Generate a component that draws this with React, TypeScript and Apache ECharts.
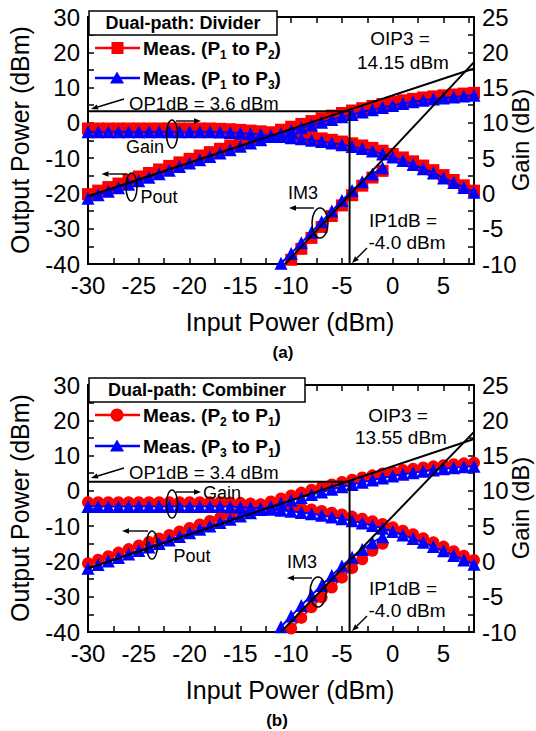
import React, { useEffect, useRef } from 'react';
import * as echarts from 'echarts';

// ---------------- data ----------------
const PIN = [-30, -29, -28, -27, -26, -25, -24, -23, -22, -21, -20, -19, -18, -17, -16, -15, -14, -13, -12, -11, -10, -9, -8, -7, -6, -5, -4, -3, -2, -1, 0, 1, 2, 3, 4, 5, 6, 7, 8];

// Panel (a) Divider
const A_POUT_RED = [-20.2, -19.2, -18.2, -17.2, -16.2, -15.2, -14.2, -13.2, -12.2, -11.2, -10.2, -9.25, -8.3, -7.35, -6.4, -5.45, -4.55, -3.65, -2.8, -1.95, -1.1, -0.3, 0.5, 1.3, 2.05, 2.8, 3.5, 4.15, 4.8, 5.35, 5.9, 6.4, 6.8, 7.2, 7.5, 7.8, 8.05, 8.3, 8.5];
const A_POUT_BLUE = [-21.4, -20.4, -19.4, -18.4, -17.4, -16.4, -15.4, -14.4, -13.4, -12.4, -11.4, -10.45, -9.5, -8.55, -7.6, -6.65, -5.7, -4.8, -3.9, -3.05, -2.2, -1.4, -0.6, 0.2, 0.95, 1.7, 2.4, 3.1, 3.75, 4.35, 4.95, 5.5, 5.95, 6.4, 6.75, 7.05, 7.35, 7.6, 7.8];
const A_GAIN_RED = [9.2, 9.2, 9.2, 9.2, 9.2, 9.2, 9.2, 9.2, 9.2, 9.2, 9.2, 9.2, 9.2, 9.15, 9.1, 9.0, 8.9, 8.8, 8.65, 8.5, 8.35, 8.2, 8.0, 7.8, 7.6, 7.35, 7.1, 6.8, 6.45, 6.05, 5.6, 5.1, 4.55, 3.95, 3.3, 2.6, 1.9, 1.15, 0.4];
const A_GAIN_BLUE = [8.75, 8.75, 8.75, 8.75, 8.75, 8.75, 8.75, 8.75, 8.75, 8.75, 8.75, 8.75, 8.75, 8.7, 8.65, 8.55, 8.45, 8.35, 8.2, 8.05, 7.9, 7.75, 7.55, 7.35, 7.15, 6.9, 6.65, 6.35, 6.0, 5.6, 5.15, 4.65, 4.1, 3.5, 2.9, 2.2, 1.55, 0.85, 0.15];
const A_IM3_PIN = [-11, -10, -9, -8, -7, -6, -5, -4, -3, -2, -1];
const A_IM3_RED = [-41.5, -38.8, -35.7, -32.6, -29.5, -26.4, -23.4, -20.5, -17.8, -15.5, -13.6];
const A_IM3_BLUE = [-39.8, -37.0, -34.0, -31.0, -28.0, -25.0, -22.0, -19.2, -16.7, -14.5, -12.7];
const A_FIT = [[-30, -20.8], [8, 15.4]];
const A_IM3_FIT = [[-10.6, -40], [8, 17.2]];
const A_OP1DB = 3.3;
const A_IP1DB = -4.25;

// Panel (b) Combiner
const B_POUT_RED = [-20.5, -19.5, -18.5, -17.5, -16.5, -15.5, -14.5, -13.5, -12.5, -11.5, -10.5, -9.5, -8.55, -7.6, -6.65, -5.7, -4.8, -3.9, -3.0, -2.15, -1.3, -0.5, 0.3, 1.05, 1.8, 2.5, 3.15, 3.8, 4.4, 4.95, 5.45, 5.9, 6.3, 6.65, 6.95, 7.25, 7.55, 7.8, 8.0];
const B_POUT_BLUE = [-21.9, -20.9, -19.9, -18.9, -17.9, -16.9, -15.9, -14.9, -13.9, -12.9, -11.9, -10.9, -9.95, -9.0, -8.05, -7.1, -6.2, -5.3, -4.4, -3.5, -2.65, -1.85, -1.05, -0.3, 0.45, 1.15, 1.8, 2.45, 3.05, 3.65, 4.2, 4.7, 5.15, 5.55, 5.9, 6.25, 6.55, 6.8, 7.0];
const B_GAIN_RED = [8.4, 8.4, 8.4, 8.4, 8.4, 8.4, 8.4, 8.4, 8.4, 8.4, 8.4, 8.4, 8.4, 8.4, 8.35, 8.3, 8.2, 8.1, 8.0, 7.85, 7.7, 7.55, 7.35, 7.15, 6.9, 6.65, 6.35, 6.05, 5.7, 5.3, 4.85, 4.35, 3.85, 3.3, 2.7, 2.1, 1.45, 0.8, 0.2];
const B_GAIN_BLUE = [7.8, 7.8, 7.8, 7.8, 7.8, 7.8, 7.8, 7.8, 7.8, 7.8, 7.8, 7.8, 7.8, 7.8, 7.75, 7.7, 7.6, 7.5, 7.4, 7.25, 7.1, 6.95, 6.75, 6.55, 6.3, 6.05, 5.75, 5.45, 5.1, 4.7, 4.25, 3.75, 3.25, 2.7, 2.1, 1.5, 0.85, 0.2, -0.4];
const B_IM3_PIN = [-12, -11, -10, -9, -8, -7, -6, -5, -4, -3, -2, -1];
const B_IM3_RED = [-45, -42, -39, -36, -33, -30.2, -27.4, -24.6, -21.9, -19.4, -17.0, -15.0];
const B_IM3_BLUE = [-41.5, -38.5, -35.5, -32.5, -29.6, -26.8, -24.0, -21.3, -18.8, -16.6, -14.7, -13.0];
const B_FIT = [[-30, -22], [8, 14.7]];
const B_IM3_FIT = [[-11, -40], [8, 16.7]];
const B_OP1DB = 2.6;
const B_IP1DB = -4.25;

const X_MIN = -30, X_MAX = 8;
const Y_MIN = -40, Y_MAX = 30;
const G_MIN = -10, G_MAX = 25;

// ---------------- helpers ----------------
const FONT = '"Liberation Sans", Arial, Helvetica, sans-serif';
const RED = '#ff0000';
const BLUE = '#0000ff';

let measureCtx: CanvasRenderingContext2D | null = null;
function textWidth(s: string, font: string, fallbackPerChar: number) {
  try {
    if (!measureCtx) measureCtx = document.createElement('canvas').getContext('2d');
    if (measureCtx) {
      measureCtx.font = font;
      return measureCtx.measureText(s).width;
    }
  } catch (e) { /* ignore */ }
  return s.length * fallbackPerChar;
}

function arrow(x1: number, y1: number, x2: number, y2: number, head = 7) {
  const dx = x2 - x1, dy = y2 - y1;
  const len = Math.sqrt(dx * dx + dy * dy);
  const ux = dx / len, uy = dy / len;
  const bx = x2 - ux * head, by = y2 - uy * head;
  const px = -uy * head * 0.38, py = ux * head * 0.38;
  return [
    { type: 'line', z: 100, shape: { x1, y1, x2: bx, y2: by }, style: { stroke: '#000', lineWidth: 1.4 } },
    { type: 'polygon', z: 100, shape: { points: [[x2, y2], [bx + px, by + py], [bx - px, by - py]] }, style: { fill: '#000' } },
  ];
}

function ell(cx: number, cy: number, rx: number, ry: number) {
  return { type: 'ellipse', z: 100, shape: { cx, cy, rx, ry }, style: { fill: 'none', stroke: '#000', lineWidth: 1.5 } };
}

function txt(x: number, y: number, text: string, size = 19, opts: any = {}) {
  return {
    type: 'text', z: 100, x, y, rotation: opts.rotation || 0,
    style: {
      text, fontSize: size, fontFamily: FONT, fontWeight: opts.bold ? 'bold' : 'normal', fill: '#000',
      align: opts.align || 'center', verticalAlign: 'middle',
    },
  };
}

// "Meas. (Pa to Pb)" with real subscripts, placed piece by piece
function legendText(x: number, y: number, a: string, b: string) {
  const main = 19, sub = 12;
  const mainFont = `bold ${main}px "Liberation Sans", Arial, sans-serif`;
  const subFont = `bold ${sub}px "Liberation Sans", Arial, sans-serif`;
  const pieces: [string, boolean][] = [['Meas. (P', false], [a, true], [' to P', false], [b, true], [')', false]];
  const els: any[] = [];
  let cx = x;
  for (const [s, isSub] of pieces) {
    const size = isSub ? sub : main;
    els.push({
      type: 'text', z: 100, x: cx, y: isSub ? y + 7 : y,
      style: { text: s, fontSize: size, fontWeight: 'bold', fontFamily: FONT, fill: '#000', align: 'left', verticalAlign: 'middle' },
    });
    cx += textWidth(s, isSub ? subFont : mainFont, size * 0.6);
  }
  return els;
}

function tri(cx: number, cy: number, color: string) {
  return { type: 'polygon', z: 100, shape: { points: [[cx, cy - 6.5], [cx - 7, cy + 5.5], [cx + 7, cy + 5.5]] }, style: { fill: color } };
}

function panelGraphics(dy: number, p: any) {
  const els: any[] = [];
  els.push({ type: 'rect', z: 100, shape: { x: 89, y: p.boxY, width: p.boxW, height: 24 }, style: { fill: '#fff', stroke: '#000', lineWidth: 1.5 } });
  els.push(txt(89 + p.boxW / 2, p.boxY + 12, p.title, 18, { bold: true }));
  els.push({ type: 'line', z: 100, shape: { x1: 95, y1: p.l1, x2: 140, y2: p.l1 }, style: { stroke: RED, lineWidth: 2.5 } });
  if (p.redSym === 'rect') {
    els.push({ type: 'rect', z: 100, shape: { x: 111.5, y: p.l1 - 6, width: 12, height: 12 }, style: { fill: RED } });
  } else {
    els.push({ type: 'circle', z: 100, shape: { cx: 117, cy: p.l1, r: 6.5 }, style: { fill: RED } });
  }
  els.push(...legendText(143, p.l1, p.s1a, p.s1b));
  els.push({ type: 'line', z: 100, shape: { x1: 95, y1: p.l2, x2: 140, y2: p.l2 }, style: { stroke: BLUE, lineWidth: 2.5 } });
  els.push(tri(117, p.l2, BLUE));
  els.push(...legendText(143, p.l2, p.s2a, p.s2b));
  els.push(txt(129, p.op.y, p.op.text, 18.5, { align: 'left' }));
  els.push(...arrow(124, p.op.y - 4, 91, p.op.y + 6));
  els.push(txt(p.oip.x, p.oip.y, 'OIP3 =', 19));
  els.push(txt(p.oip.x + 3, p.oip.y + p.oip.gap, p.oip.text, 19));
  els.push(ell(p.gain.cx, p.gain.cy, 5.5, 14));
  els.push(...arrow(p.gain.cx + 4, p.gain.ay, p.gain.cx + 29, p.gain.ay));
  els.push(txt(p.gain.tx, p.gain.ty, 'Gain', 18));
  els.push(ell(p.pout.cx, p.pout.cy, 5.5, 14));
  els.push(...arrow(p.pout.cx - 4, p.pout.ay, p.pout.cx - 30, p.pout.ay));
  els.push(txt(p.pout.tx, p.pout.ty, 'Pout', 18));
  els.push(ell(p.im3.cx, p.im3.cy, 8, 15));
  els.push(...arrow(p.im3.cx - 6, p.im3.ay, p.im3.cx - 31, p.im3.ay));
  els.push(txt(p.im3.tx, p.im3.ty, 'IM3', 18));
  els.push(txt(403, p.ip.y, 'IP1dB =', 19));
  els.push(txt(407, p.ip.y + 22, '-4.0 dBm', 19));
  els.push(...arrow(367, p.ip.y + 28, 352, p.ip.y + 43));
  els.push(txt(20, 140 + dy, 'Output Power (dBm)', 25, { rotation: Math.PI / 2 }));
  els.push(txt(520, 140 + dy, 'Gain (dB)', 24, { rotation: Math.PI / 2 }));
  els.push(txt(290, 322 + dy, 'Input Power (dBm)', 25));
  els.push(txt(p.tag.x, p.tag.y, p.tag.text, 17, { bold: true }));
  return els;
}

function zip(xs: number[], ys: number[]) {
  return xs.map((x, i) => [x, ys[i]]);
}

function dataSeries(g: number, right: boolean, xs: number[], ys: number[], color: string, symbol: string, size: number, z: number) {
  return {
    type: 'line', xAxisIndex: 2 * g, yAxisIndex: 2 * g + (right ? 1 : 0),
    data: zip(xs, ys), symbol, symbolSize: size, showSymbol: true, showAllSymbol: true,
    itemStyle: { color }, lineStyle: { color, width: 2 }, z, silent: true, clip: true,
  };
}

function blackLine(g: number, pts: number[][]) {
  return {
    type: 'line', xAxisIndex: 2 * g, yAxisIndex: 2 * g, data: pts, symbol: 'none',
    lineStyle: { color: '#000', width: 2 }, z: 20, silent: true, clip: true,
  };
}

const axisLine = { show: true, onZero: false, lineStyle: { color: '#000', width: 2 } };
const axisTick = { show: true, inside: true, length: 6, lineStyle: { color: '#000', width: 1.5 } };
const labelBase = { color: '#000', fontSize: 24, fontFamily: FONT };

function buildOption() {
  const grids = [
    { left: 88, top: 17, width: 386, height: 247 },
    { left: 88, top: 385, width: 386, height: 247 },
  ];
  const xAxis: any[] = [];
  const yAxis: any[] = [];
  for (let g = 0; g < 2; g++) {
    xAxis.push({
      gridIndex: g, type: 'value', min: X_MIN, max: X_MAX, interval: 2.5, position: 'bottom',
      axisLine, axisTick, splitLine: { show: false },
      axisLabel: { ...labelBase, margin: 9, formatter: (v: number) => (v % 5 === 0 && v <= 5 ? String(v) : '') },
    });
    xAxis.push({
      gridIndex: g, type: 'value', min: X_MIN, max: X_MAX, interval: 2.5, position: 'top',
      axisLine, axisTick, splitLine: { show: false }, axisLabel: { show: false },
    });
    yAxis.push({
      gridIndex: g, type: 'value', min: Y_MIN, max: Y_MAX, interval: 5, position: 'left',
      axisLine, axisTick, splitLine: { show: false },
      axisLabel: { ...labelBase, margin: 8, formatter: (v: number) => (v % 10 === 0 ? String(v) : '') },
    });
    yAxis.push({
      gridIndex: g, type: 'value', min: G_MIN, max: G_MAX, interval: 2.5, position: 'right',
      axisLine, axisTick, splitLine: { show: false },
      axisLabel: { ...labelBase, margin: 8, formatter: (v: number) => (v % 5 === 0 ? String(v) : '') },
    });
  }

  const series: any[] = [
    dataSeries(0, false, PIN, A_POUT_RED, RED, 'rect', 12, 2),
    dataSeries(0, true, PIN, A_GAIN_RED, RED, 'rect', 12, 2),
    dataSeries(0, false, A_IM3_PIN, A_IM3_RED, RED, 'rect', 12, 2),
    dataSeries(0, false, PIN, A_POUT_BLUE, BLUE, 'triangle', 13, 3),
    dataSeries(0, true, PIN, A_GAIN_BLUE, BLUE, 'triangle', 13, 3),
    dataSeries(0, false, A_IM3_PIN, A_IM3_BLUE, BLUE, 'triangle', 13, 3),
    blackLine(0, A_FIT),
    blackLine(0, A_IM3_FIT),
    blackLine(0, [[X_MIN, A_OP1DB], [A_IP1DB, A_OP1DB]]),
    blackLine(0, [[A_IP1DB, Y_MIN], [A_IP1DB, A_OP1DB]]),
    dataSeries(1, false, PIN, B_POUT_RED, RED, 'circle', 12, 2),
    dataSeries(1, true, PIN, B_GAIN_RED, RED, 'circle', 12, 2),
    dataSeries(1, false, B_IM3_PIN, B_IM3_RED, RED, 'circle', 12, 2),
    dataSeries(1, false, PIN, B_POUT_BLUE, BLUE, 'triangle', 13, 3),
    dataSeries(1, true, PIN, B_GAIN_BLUE, BLUE, 'triangle', 13, 3),
    dataSeries(1, false, B_IM3_PIN, B_IM3_BLUE, BLUE, 'triangle', 13, 3),
    blackLine(1, B_FIT),
    blackLine(1, B_IM3_FIT),
    blackLine(1, [[X_MIN, B_OP1DB], [B_IP1DB, B_OP1DB]]),
    blackLine(1, [[B_IP1DB, Y_MIN], [B_IP1DB, B_OP1DB]]),
  ];

  const graphic = [
    ...panelGraphics(0, {
      boxY: 11, boxW: 188, title: 'Dual-path: Divider', l1: 48, l2: 78, redSym: 'rect',
      s1a: '1', s1b: '2', s2a: '1', s2b: '3',
      op: { y: 103, text: 'OP1dB = 3.6 dBm' },
      oip: { x: 400, y: 38, gap: 24, text: '14.15 dBm' },
      gain: { cx: 172, cy: 134, ay: 121, tx: 145, ty: 147 },
      pout: { cx: 131.5, cy: 187, ay: 174, tx: 159, ty: 197 },
      im3: { cx: 320, cy: 223, ay: 208, tx: 303, ty: 193 },
      ip: { y: 220 },
      tag: { x: 283, y: 352, text: '(a)' },
    }),
    ...panelGraphics(368, {
      boxY: 378, boxW: 216, title: 'Dual-path: Combiner', l1: 415, l2: 446, redSym: 'circle',
      s1a: '2', s1b: '1', s2a: '3', s2b: '1',
      op: { y: 472, text: 'OP1dB = 3.4 dBm' },
      oip: { x: 398, y: 415, gap: 22, text: '13.55 dBm' },
      gain: { cx: 172, cy: 504, ay: 492, tx: 222, ty: 493 },
      pout: { cx: 152, cy: 545, ay: 531, tx: 192, ty: 556 },
      im3: { cx: 318, cy: 592, ay: 578, tx: 302, ty: 562 },
      ip: { y: 588 },
      tag: { x: 277, y: 720, text: '(b)' },
    }),
  ];

  return {
    animation: false,
    backgroundColor: '#fff',
    grid: grids,
    xAxis,
    yAxis,
    series,
    graphic,
  };
}

export default function App() {
  const ref = useRef<HTMLDivElement>(null);
  useEffect(() => {
    if (!ref.current) return;
    const chart = echarts.init(ref.current, null, { renderer: 'svg' });
    chart.setOption(buildOption() as any);
    return () => chart.dispose();
  }, []);
  return (
    <div
      ref={ref}
      style={{ position: 'fixed', left: 0, top: 0, width: 536, height: 731, background: '#fff' }}
    />
  );
}
